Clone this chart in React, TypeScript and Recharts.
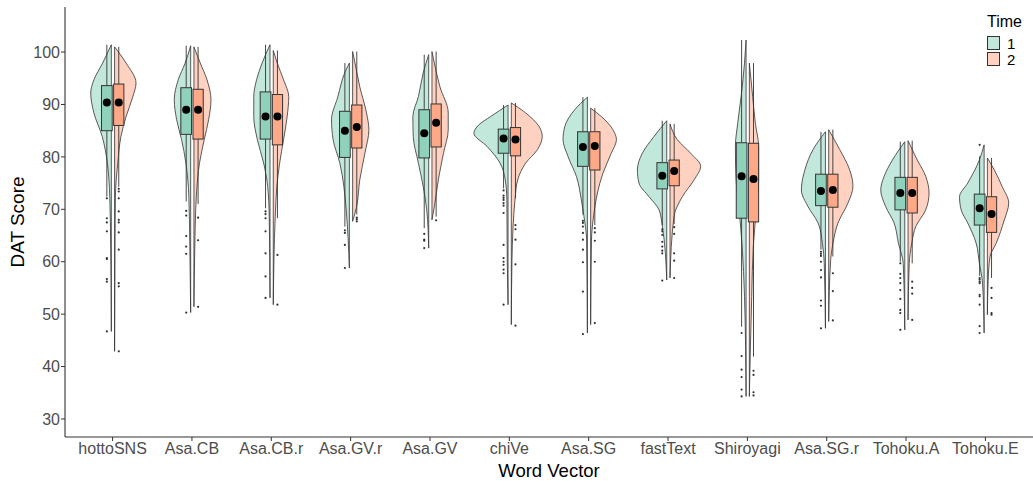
import React from "react";
import { ScatterChart, Scatter, XAxis, YAxis, Legend, Curve } from "recharts";

const categories = ["hottoSNS", "Asa.CB", "Asa.CB.r", "Asa.GV.r", "Asa.GV", "chiVe", "Asa.SG", "fastText", "Shiroyagi", "Asa.SG.r", "Tohoku.A", "Tohoku.E"];
const times = ["1", "2"];
const yTicks = [30, 40, 50, 60, 70, 80, 90, 100];

// violin outlines, bottom to top: [DAT score, half width in category units]
const violin1: [number, number][][] = [
  [[46.7, 0], [62.9, 0.008], [72.4, 0.02], [78.8, 0.05], [83.9, 0.115], [88.4, 0.22], [92.2, 0.26], [94.7, 0.22], [97.9, 0.11], [101.4, 0]],
  [[50.3, 0], [62, 0.01], [72.4, 0.023], [78.8, 0.06], [83.3, 0.115], [87.1, 0.177], [90.9, 0.207], [94.7, 0.157], [97.9, 0.07], [101.2, 0]],
  [[53.1, 0], [68.6, 0.01], [74.4, 0.03], [78.8, 0.08], [83.3, 0.16], [87.7, 0.205], [91.5, 0.205], [94.7, 0.17], [97.9, 0.1], [101.4, 0]],
  [[58.8, 0], [69.9, 0.04], [74.4, 0.07], [78.8, 0.12], [83.3, 0.205], [87.1, 0.225], [91.5, 0.145], [96.0, 0.06], [97.9, 0]],
  [[62.6, 0], [69.9, 0.025], [74.4, 0.07], [78.8, 0.13], [83.9, 0.195], [87.7, 0.2], [91.5, 0.13], [96.0, 0.07], [99.5, 0]],
  [[51.8, 0], [60, 0.01], [71.8, 0.015], [75.6, 0.035], [78.8, 0.1], [82.0, 0.265], [84.5, 0.43], [86.1, 0.37], [87.7, 0.22], [89.9, 0]],
  [[46.4, 0], [64.2, 0.01], [68.6, 0.043], [71.8, 0.076], [76.3, 0.139], [80.1, 0.245], [83.3, 0.307], [85.8, 0.285], [89.0, 0.16], [91.4, 0]],
  [[56.5, 0], [66.7, 0.055], [69.9, 0.097], [72.4, 0.223], [75.0, 0.35], [77.5, 0.37], [80.7, 0.308], [83.9, 0.16], [86.9, 0]],
  [[34.3, 0], [53.4, 0.02], [62.9, 0.05], [69.3, 0.084], [75.6, 0.126], [82.0, 0.135], [86.4, 0.106], [91.5, 0.063], [97.9, 0.02], [102.3, 0]],
  [[47.3, 0], [59.7, 0.015], [63.5, 0.038], [67.4, 0.093], [70.5, 0.219], [73.7, 0.303], [77.5, 0.26], [81.4, 0.156], [84.8, 0]],
  [[47.0, 0], [59.7, 0.02], [63.5, 0.08], [67.4, 0.135], [70.5, 0.24], [73.7, 0.303], [76.3, 0.26], [79.4, 0.156], [82.9, 0]],
  [[46.4, 0], [55.9, 0.02], [59.7, 0.06], [63.5, 0.1], [67.4, 0.207], [69.9, 0.29], [72.4, 0.31], [75.0, 0.207], [79.4, 0.06], [82.3, 0]],
];
const violin2: [number, number][][] = [
  [[42.9, 0], [62.9, 0.005], [72.4, 0.01], [78.8, 0.04], [83.9, 0.08], [87.7, 0.145], [91.5, 0.23], [94.1, 0.27], [97.9, 0.145], [101.0, 0]],
  [[51.4, 0], [62, 0.01], [72.4, 0.03], [78.8, 0.07], [83.3, 0.13], [87.1, 0.185], [90.9, 0.215], [94.7, 0.165], [97.9, 0.08], [101.0, 0]],
  [[51.8, 0], [68.6, 0.025], [74.4, 0.045], [78.8, 0.08], [83.3, 0.13], [87.7, 0.175], [91.5, 0.195], [94.7, 0.13], [97.9, 0.05], [100.3, 0]],
  [[67.7, 0], [70.5, 0.05], [75.6, 0.09], [80.7, 0.155], [85.2, 0.205], [88.4, 0.175], [93.4, 0.09], [97.9, 0.03], [100.1, 0]],
  [[68.0, 0], [70.5, 0.03], [75.6, 0.08], [80.7, 0.145], [85.2, 0.205], [88.4, 0.205], [93.4, 0.1], [97.9, 0.03], [100.1, 0]],
  [[48.0, 0], [60, 0.008], [72.4, 0.05], [75.6, 0.08], [78.8, 0.18], [81.4, 0.33], [83.9, 0.39], [85.8, 0.35], [88.4, 0.18], [90.3, 0]],
  [[48.0, 0], [64, 0.01], [69.3, 0.042], [73.1, 0.085], [76.9, 0.155], [80.7, 0.26], [83.3, 0.325], [85.2, 0.28], [87.7, 0.135], [89.3, 0]],
  [[56.9, 0], [68.6, 0.05], [72.4, 0.155], [75.6, 0.303], [78.2, 0.387], [80.7, 0.26], [83.3, 0.092], [86.3, 0]],
  [[34.3, 0], [53.4, 0.03], [62.9, 0.05], [69.3, 0.084], [75.6, 0.117], [82.0, 0.117], [86.4, 0.076], [91.5, 0.042], [97.9, 0]],
  [[48.6, 0], [60.4, 0.025], [63.5, 0.054], [67.4, 0.117], [71.2, 0.243], [74.4, 0.306], [77.5, 0.265], [81.4, 0.139], [85.2, 0]],
  [[48.9, 0], [59.7, 0.015], [63.5, 0.047], [66.7, 0.097], [69.9, 0.223], [73.1, 0.265], [76.3, 0.223], [79.4, 0.117], [83.1, 0]],
  [[49.9, 0], [56.5, 0.01], [61.0, 0.034], [63.5, 0.11], [68.0, 0.214], [71.2, 0.269], [74.4, 0.185], [77.5, 0.088], [79.8, 0]],
];

// boxplots: [q1, q3], whiskers: [low, high]
const box1: [number, number][] = [[85.0, 93.6], [84.3, 93.2], [83.4, 92.4], [79.9, 88.7], [79.8, 89.0], [80.7, 85.3], [78.2, 84.8], [73.9, 78.9], [68.3, 82.7], [70.7, 76.7], [69.9, 76.1], [67.0, 72.9]];
const box2: [number, number][] = [[86.0, 93.9], [83.4, 92.9], [82.3, 91.9], [81.7, 89.9], [81.9, 90.1], [80.2, 85.6], [77.5, 84.8], [74.5, 79.4], [67.6, 82.6], [70.4, 76.7], [69.3, 76.1], [65.6, 72.4]];
const whisker1: [number, number][] = [[72.4, 101.4], [71.5, 101.2], [70.2, 101.4], [66.7, 97.9], [66.4, 99.5], [74.0, 89.9], [69.0, 91.4], [67.0, 86.9], [47.6, 102.3], [62.3, 84.8], [60.0, 82.9], [57.3, 80.1]];
const whisker2: [number, number][] = [[74.3, 101.0], [71.0, 101.0], [68.3, 100.3], [69.0, 100.1], [68.6, 100.1], [72.1, 90.3], [67.0, 89.3], [67.2, 86.3], [41.9, 97.9], [61.0, 85.2], [59.7, 83.1], [56.9, 79.8]];
const mean1 = [90.4, 89.0, 87.7, 85.0, 84.5, 83.5, 81.9, 76.4, 76.3, 73.5, 73.1, 70.2];
const mean2 = [90.4, 89.0, 87.7, 85.7, 86.5, 83.3, 82.1, 77.3, 75.8, 73.7, 73.1, 69.1];
const outliers1: number[][] = [
  [72.1, 68.3, 67.5, 65.8, 60.7, 60.5, 56.7, 56.2, 46.7],
  [69.7, 68.8, 64.9, 62.9, 61.5, 50.3],
  [69.6, 69.1, 68.3, 65.8, 61.6, 57.2, 53.1],
  [66.0, 65.5, 63.2, 58.8],
  [65.3, 64.2, 64.0, 62.6],
  [73.6, 72.6, 72.2, 71.8, 71.2, 70.7, 69.3, 63.2, 60.7, 60.0, 59.4, 58.5, 57.8, 51.8],
  [67.8, 67.4, 66.7, 65.5, 64.2, 62.3, 59.9, 54.3, 46.2],
  [66.2, 65.8, 65.1, 63.8, 62.9, 62.1, 61.6, 56.4],
  [46.4, 42.0, 39.4, 38.0, 35.6, 34.3],
  [61.9, 61.5, 61.1, 60.0, 58.4, 57.0, 52.6, 51.6, 47.3],
  [59.7, 57.7, 56.9, 55.9, 54.6, 52.9, 50.8, 50.2, 47.0],
  [82.3, 56.9, 56.6, 56.2, 55.9, 53.7, 53.4, 51.8, 47.7, 46.4],
];
const outliers2: number[][] = [
  [73.9, 73.4, 72.1, 69.6, 68.0, 67.5, 65.6, 62.3, 55.9, 55.3, 42.9],
  [68.4, 64.1, 51.4],
  [61.3, 51.8],
  [68.4, 68.1, 67.7],
  [67.9],
  [67.0, 66.2, 64.2, 59.5, 47.8],
  [66.4, 65.6, 64.0, 60.0, 48.3],
  [66.6, 65.3, 61.6, 60.2, 56.9],
  [39.2, 38.4, 35.1, 34.5],
  [57.8, 54.4, 48.8],
  [56.2, 55.0, 53.9, 48.9],
  [55.0, 53.1, 50.2, 49.9],
];

const INK = "#333333";
const violinFill = ["#c2e7db", "#fed1c0"];
const boxFill = ["#8fd1bb", "#fda987"];
const FONT = '"Liberation Sans", Arial, Helvetica, sans-serif';

// dodge of each time group around the category position
const violinEdge = [-0.016, 0.025];
const boxSpan: [number, number][] = [[-0.14, -0.005], [0.013, 0.142]];

const groups = [
  { violins: violin1, boxes: box1, whiskers: whisker1, means: mean1, outliers: outliers1 },
  { violins: violin2, boxes: box2, whiskers: whisker2, means: mean2, outliers: outliers2 },
];

const boxCenter = (t: number, i: number) => i + 1 + (boxSpan[t][0] + boxSpan[t][1]) / 2;

const violinData = (t: number, i: number) =>
  groups[t].violins[i].map(([y, w]) => ({ x: i + 1 + violinEdge[t] + (t === 0 ? -w : w), y }));

const boxData = (t: number) =>
  groups[t].boxes.flatMap(([q1, q3], i) => [
    { x: i + 1 + boxSpan[t][0], y: q1 },
    { x: i + 1 + boxSpan[t][1], y: q3 },
  ]);

const whiskerData = (t: number) =>
  groups[t].whiskers.flatMap(([lo, hi], i) => {
    const cx = boxCenter(t, i);
    const [q1, q3] = groups[t].boxes[i];
    return [{ x: cx, y: q3 }, { x: cx, y: hi }, { x: cx, y: q1 }, { x: cx, y: lo }];
  });

const meanData = (t: number) => groups[t].means.map((m, i) => ({ x: boxCenter(t, i), y: m }));

const outlierData = (t: number) =>
  groups[t].outliers.flatMap((vals, i) => vals.map((v) => ({ x: boxCenter(t, i), y: v })));

type Pt = { x: number; y: number };

const renderNothing = () => <g />;

const violinOutline = (fill: string) => (props: any) => {
  const pts = (props.points as Pt[]).slice().reverse();
  const first = pts[0];
  const last = pts[pts.length - 1];
  return (
    <g>
      <Curve points={pts} type="monotoneY" fill={fill} stroke={INK} strokeWidth={0.8} />
      <line x1={first.x} y1={first.y} x2={last.x} y2={last.y} stroke={INK} strokeWidth={0.8} />
    </g>
  );
};

const boxOutline = (fill: string) => (props: any) => {
  const pts = props.points as Pt[];
  const rects = [];
  for (let k = 0; k + 1 < pts.length; k += 2) {
    const a = pts[k];
    const b = pts[k + 1];
    rects.push(
      <rect key={k} x={Math.min(a.x, b.x)} y={Math.min(a.y, b.y)} width={Math.abs(b.x - a.x)} height={Math.abs(b.y - a.y)}
        fill={fill} stroke={INK} strokeWidth={1} />
    );
  }
  return <g>{rects}</g>;
};

const segments = (props: any) => {
  const pts = props.points as Pt[];
  const lines = [];
  for (let k = 0; k + 1 < pts.length; k += 2) {
    lines.push(<line key={k} x1={pts[k].x} y1={pts[k].y} x2={pts[k + 1].x} y2={pts[k + 1].y} stroke={INK} strokeWidth={0.9} />);
  }
  return <g>{lines}</g>;
};

const meanDot = (p: any) => <circle cx={p.cx} cy={p.cy} r={4} fill="#000000" />;
const outlierDot = (p: any) => <circle cx={p.cx} cy={p.cy} r={1.1} fill={INK} />;

const TimeLegend = () => (
  <div style={{ fontFamily: FONT, color: "#000", lineHeight: 1 }}>
    <div style={{ fontSize: 16, marginBottom: 5 }}>Time</div>
    {times.map((t, k) => (
      <div key={t} style={{ display: "flex", alignItems: "center", height: 16 }}>
        <span style={{ width: 13, height: 14, background: violinFill[k], border: `1px solid ${INK}`, boxSizing: "border-box", display: "inline-block" }} />
        <span style={{ fontSize: 15, marginLeft: 7 }}>{t}</span>
      </div>
    ))}
  </div>
);

const App = () => {
  return (
    <div style={{ fontFamily: FONT }}>
      <style>{`body{margin:0}`}</style>
      <ScatterChart width={1033} height={481} margin={{ top: 7, right: 0, bottom: 0, left: 0 }}>
        <XAxis type="number" dataKey="x" domain={[0.4, 12.6]} ticks={categories.map((_, i) => i + 1)} interval={0}
          allowDataOverflow tickFormatter={(v: number) => categories[v - 1]} height={44}
          tick={{ fontSize: 16, fill: "#4d4d4d" }} tickSize={4} tickMargin={2}
          axisLine={{ stroke: INK, strokeWidth: 1.1 }} tickLine={{ stroke: INK }}
          label={{ value: "Word Vector", position: "insideBottom", offset: 4, fontSize: 18.5, fill: "#000" }} />
        <YAxis type="number" dataKey="y" domain={[26.56, 108.6]} ticks={yTicks} interval={0} allowDataOverflow width={65}
          tick={{ fontSize: 16, fill: "#4d4d4d" }} tickSize={4} tickMargin={1}
          axisLine={{ stroke: INK, strokeWidth: 1.1 }} tickLine={{ stroke: INK }}
          label={{ value: "DAT Score", angle: -90, position: "insideLeft", offset: 17, fontSize: 19, fill: "#000", style: { textAnchor: "middle" } }} />
        <Legend content={<TimeLegend />} verticalAlign="middle" align="center" layout="horizontal"
          wrapperStyle={{ top: 14, left: 987, width: 46 }} />
        {categories.flatMap((c, i) =>
          [0, 1].map((t) => (
            <Scatter key={`v-${c}-${t}`} data={violinData(t, i)} shape={renderNothing} line={violinOutline(violinFill[t])}
              isAnimationActive={false} legendType="none" />
          ))
        )}
        {[0, 1].map((t) => (
          <Scatter key={`w-${t}`} data={whiskerData(t)} shape={renderNothing} line={segments} isAnimationActive={false} legendType="none" />
        ))}
        {[0, 1].map((t) => (
          <Scatter key={`b-${t}`} data={boxData(t)} shape={renderNothing} line={boxOutline(boxFill[t])} isAnimationActive={false} legendType="none" />
        ))}
        {[0, 1].map((t) => (
          <Scatter key={`o-${t}`} data={outlierData(t)} shape={outlierDot} isAnimationActive={false} legendType="none" />
        ))}
        {[0, 1].map((t) => (
          <Scatter key={`m-${t}`} data={meanData(t)} shape={meanDot} isAnimationActive={false} legendType="none" />
        ))}
      </ScatterChart>
    </div>
  );
};

export default App;
